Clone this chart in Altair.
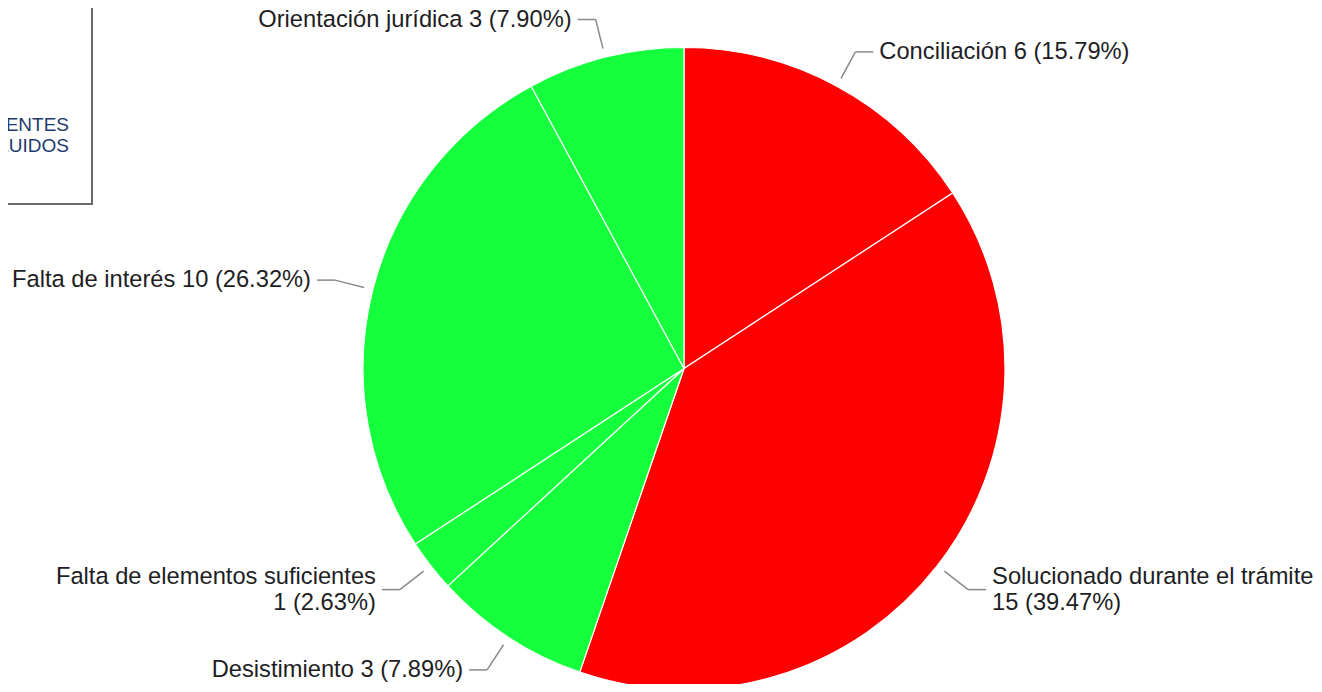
import math
import altair as alt
import pandas as pd

# ---- data ----
categories = [
    "Conciliación",
    "Solucionado durante el trámite",
    "Desistimiento",
    "Falta de elementos suficientes",
    "Falta de interés",
    "Orientación jurídica",
]
counts = [6, 15, 3, 1, 10, 3]
percent_text = ["15.79%", "39.47%", "7.89%", "2.63%", "26.32%", "7.90%"]
slice_colors = ["#FF0000", "#FF0000", "#14FF3C", "#14FF3C", "#14FF3C", "#14FF3C"]
two_line = [False, True, False, True, False, False]
box_lines = ["EXPEDIENTES", "CONCLUIDOS"]

# ---- layout ----
W, H = 1306, 676
CX, CY = 676, 360.5
R = 321
R_START, R_ELBOW, TAIL, GAP = R + 9, R + 39, 18, 6
FONT = "Liberation Sans"
FS = 23.7
LH = 26

total = sum(counts)
df = pd.DataFrame({"cat": categories, "count": counts, "idx": range(len(counts))})

seg_rows, lab_rows = [], []
cum = 0
for cat, c, pct, tl in zip(categories, counts, percent_text, two_line):
    mid = (cum + c / 2) / total * 2 * math.pi
    cum += c
    s, co = math.sin(mid), math.cos(mid)
    x0, y0 = CX + R_START * s, CY - R_START * co
    x1, y1 = CX + R_ELBOW * s, CY - R_ELBOW * co
    side = 1 if s >= 0 else -1
    x2 = x1 + side * TAIL
    seg_rows.append({"x": x0, "y": y0, "x2": x1, "y2": y1})
    seg_rows.append({"x": x1, "y": y1, "x2": x2, "y2": y1})
    sep = "\n" if tl else " "
    text = f"{cat}{sep}{c} ({pct})"
    lab_rows.append({"x": x2 + side * GAP, "y": y1, "text": text,
                     "align": "left" if side > 0 else "right", "multi": tl})

segs = pd.DataFrame(seg_rows)
labs = pd.DataFrame(lab_rows)

xs = alt.Scale(domain=[0, W], nice=False, zero=False)
ys = alt.Scale(domain=[0, H], nice=False, zero=False, reverse=True)

pie = alt.Chart(df).mark_arc(stroke="white", strokeWidth=1.2).encode(
    theta=alt.Theta("count:Q", stack=True),
    color=alt.Color("cat:N", scale=alt.Scale(domain=categories, range=slice_colors), legend=None),
    order=alt.Order("idx:Q"),
    x=alt.value(CX),
    y=alt.value(CY),
    radius=alt.value(R),
)

leaders = alt.Chart(segs).mark_rule(color="#8a8a8a", strokeWidth=1.5).encode(
    x=alt.X("x:Q", scale=xs, axis=None),
    y=alt.Y("y:Q", scale=ys, axis=None),
    x2="x2:Q",
    y2="y2:Q",
)


def label_layer(align, multi):
    sub = labs[(labs["align"] == align) & (labs["multi"] == multi)]
    return alt.Chart(sub).mark_text(
        align=align, baseline="middle", fontSize=FS, font=FONT, color="#1e1e24",
        lineBreak="\n", lineHeight=LH, dy=-LH / 2 if multi else 0,
    ).encode(x=alt.X("x:Q", scale=xs, axis=None), y=alt.Y("y:Q", scale=ys, axis=None), text="text:N")


labels = [label_layer(a, m) for a in ("left", "right") for m in (False, True)]

box = alt.Chart(pd.DataFrame({"k": [0]})).mark_rect(
    fill="white", fillOpacity=0, stroke="#6a6a6a", strokeWidth=2
).encode(x=alt.value(-30), x2=alt.value(84), y=alt.value(-30), y2=alt.value(196))

box_text = alt.Chart(pd.DataFrame({"t": box_lines, "i": [0, 1]})).mark_text(
    align="right", baseline="middle", fontSize=19, font=FONT, color="#1f3a6e"
).encode(
    x=alt.value(61),
    y=alt.Y("i:Q", scale=alt.Scale(domain=[0, 1], range=[117, 138]), axis=None),
    text="t:N",
)

chart = alt.layer(box, box_text, pie, leaders, *labels).resolve_scale(
    y="independent"
).properties(
    width=W, height=H, padding=0, background="white",
    autosize=alt.AutoSizeParams(type="none"),
).configure_view(stroke=None)

chart.save("out.html", embed_options={"renderer": "svg", "actions": False})
